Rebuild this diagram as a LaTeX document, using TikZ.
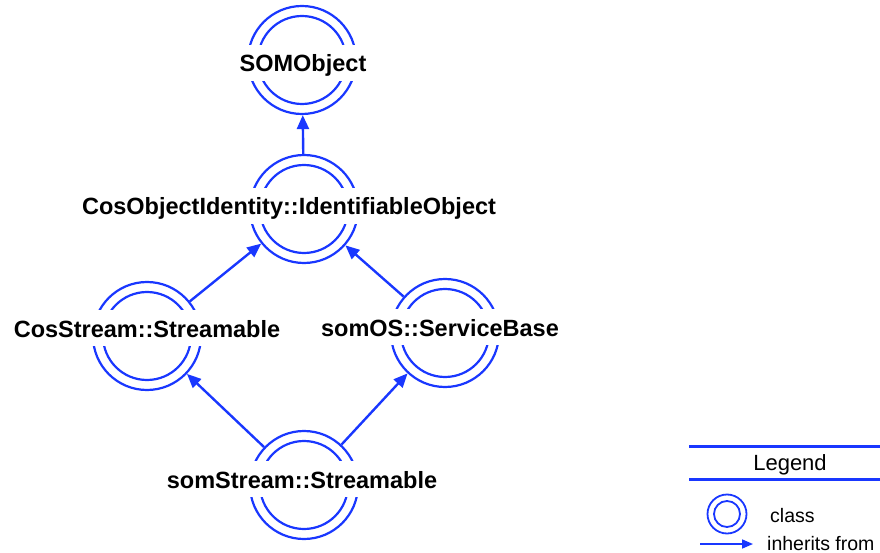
\documentclass[tikz,border=0pt]{standalone}
\usepackage{fontspec}
\setmainfont{Liberation Sans}
\usetikzlibrary{arrows.meta}
\definecolor{umlblue}{RGB}{25,55,255}
\begin{document}
\begin{tikzpicture}[x=1pt,y=-1pt,
  classring/.style={circle, draw=umlblue, line width=2.2pt, minimum size=108pt, inner sep=0pt},
  innerring/.style={circle, draw=umlblue, line width=2.2pt, minimum size=88pt, inner sep=0pt},
  classlabel/.style={fill=white, inner xsep=2pt, inner ysep=0pt, text height=27pt, text depth=9pt, anchor=base, font=\bfseries\fontsize{23.5}{28}\selectfont},
  inh/.style={draw=umlblue, line width=2.4pt, -{Triangle[length=14pt,width=12pt]}},
  legtext/.style={anchor=base west, inner sep=0pt, font=\fontsize{19.5}{24}\selectfont},
  legline/.style={draw=umlblue, line width=3pt}]
\useasboundingbox (0,0) rectangle (880,553);

% class rings
\node[classring] (som) at (302,60) {};
\node[innerring] (somin) at (som.center) {};
\node[classring] (coi) at (304,209) {};
\node[innerring] (coiin) at (coi.center) {};
\node[classring] (cs) at (147,336) {};
\node[innerring] (csin) at (cs.center) {};
\node[classring] (sb) at (445,333) {};
\node[innerring] (sbin) at (sb.center) {};
\node[classring] (ss) at (304,485) {};
\node[innerring] (ssin) at (ss.center) {};

% labels
\node[classlabel] (somlbl) at (303,72) {SOMObject};
\node[classlabel] (coilbl) at (289,215) {CosObjectIdentity::IdentifiableObject};
\node[classlabel] (cslbl) at (147,337) {CosStream::Streamable};
\node[classlabel] (sblbl) at (440,336) {somOS::ServiceBase};
\node[classlabel] (sslbl) at (302,488) {somStream::Streamable};

% inheritance
\draw[inh] (coi) -- (som);
\draw[inh] (cs) -- (coi);
\draw[inh] (sb) -- (coi);
\draw[inh] (ss) -- (cs);
\draw[inh] (ss) -- (sb);

% legend
\coordinate (l1a) at (689,446);
\coordinate (l1b) at (880,446);
\coordinate (l2a) at (689,479);
\coordinate (l2b) at (880,479);
\draw[legline] (l1a) -- (l1b);
\draw[legline] (l2a) -- (l2b);
\node[anchor=base, inner sep=0pt, font=\fontsize{22}{26}\selectfont] (legtitle) at (790,470) {Legend};
\node[circle, draw=umlblue, line width=1.8pt, minimum size=39pt, inner sep=0pt] (legring) at (727,514) {};
\node[circle, draw=umlblue, line width=1.8pt, minimum size=26pt, inner sep=0pt] (legringin) at (legring.center) {};
\node[legtext] (legclass) at (770,522) {class};
\coordinate (la) at (700,544);
\coordinate (lb) at (753,544);
\draw[draw=umlblue, line width=1.6pt, -{Triangle[length=11pt,width=9pt]}] (la) -- (lb);
\node[legtext] (leginh) at (767,550) {inherits from};
\end{tikzpicture}
\end{document}
